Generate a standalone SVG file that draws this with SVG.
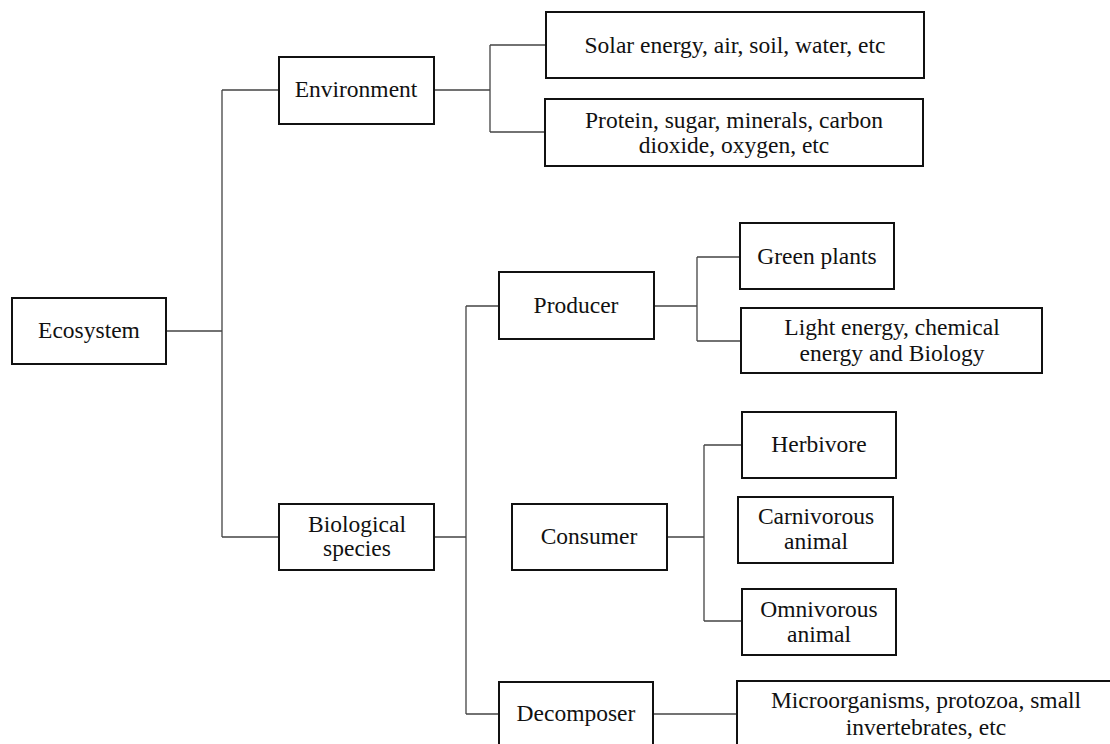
<svg xmlns="http://www.w3.org/2000/svg" width="1110" height="744" viewBox="0 0 1110 744">
<style>
.box{fill:#fff;stroke:#111;stroke-width:2}
.t{font-family:"Liberation Serif","Times New Roman",serif;font-size:23.5px;fill:#111;text-anchor:middle}
.c{fill:none;stroke:#444;stroke-width:1.3}
</style>
<rect width="1110" height="744" fill="#fff"/>
<g id="connectors">
<path class="c" d="M166,331H222M222,90V537M222,90H279M222,537H279"/>
<path class="c" d="M434,90H490M490,45V132M490,45H546M490,132H545"/>
<path class="c" d="M434,537H466M466,306V714M466,306H499M466,714H499"/>
<path class="c" d="M653,306H697M697,257V341M697,257H740M697,341H741"/>
<path class="c" d="M667,537H704M704,445V621M704,445H742M704,621H742"/>
<path class="c" d="M653,714H737"/>
</g>
<g id="ecosystem"><rect class="box" x="12" y="298" width="154" height="66"/><text class="t" x="89" y="338">Ecosystem</text></g>
<g id="environment"><rect class="box" x="279" y="57" width="155" height="67"/><text class="t" x="356" y="97">Environment</text></g>
<g id="solar"><rect class="box" x="546" y="12" width="378" height="66"/><text class="t" x="735" y="53">Solar energy, air, soil, water, etc</text></g>
<g id="protein"><rect class="box" x="545" y="99" width="378" height="67"/><text class="t" x="734" y="128">Protein, sugar, minerals, carbon</text><text class="t" x="734" y="153">dioxide, oxygen, etc</text></g>
<g id="biological"><rect class="box" x="279" y="504" width="155" height="66"/><text class="t" x="357" y="532">Biological</text><text class="t" x="357" y="556">species</text></g>
<g id="producer"><rect class="box" x="499" y="272" width="155" height="67"/><text class="t" x="576" y="313">Producer</text></g>
<g id="consumer"><rect class="box" x="512" y="504" width="155" height="66"/><text class="t" x="589" y="544">Consumer</text></g>
<g id="decomposer"><rect class="box" x="499" y="682" width="154" height="70"/><text class="t" x="576" y="721">Decomposer</text></g>
<g id="green"><rect class="box" x="740" y="223" width="154" height="66"/><text class="t" x="817" y="264">Green plants</text></g>
<g id="light"><rect class="box" x="741" y="308" width="301" height="65"/><text class="t" x="892" y="335">Light energy, chemical</text><text class="t" x="892" y="361">energy and Biology</text></g>
<g id="herbivore"><rect class="box" x="742" y="412" width="154" height="66"/><text class="t" x="819" y="452">Herbivore</text></g>
<g id="carnivorous"><rect class="box" x="738" y="497" width="155" height="66"/><text class="t" x="816" y="524">Carnivorous</text><text class="t" x="816" y="549">animal</text></g>
<g id="omnivorous"><rect class="box" x="742" y="589" width="154" height="66"/><text class="t" x="819" y="617">Omnivorous</text><text class="t" x="819" y="642">animal</text></g>
<g id="micro"><rect class="box" x="737" y="681" width="380" height="70"/><text class="t" x="926" y="708">Microorganisms, protozoa, small</text><text class="t" x="926" y="735">invertebrates, etc</text></g>
</svg>
